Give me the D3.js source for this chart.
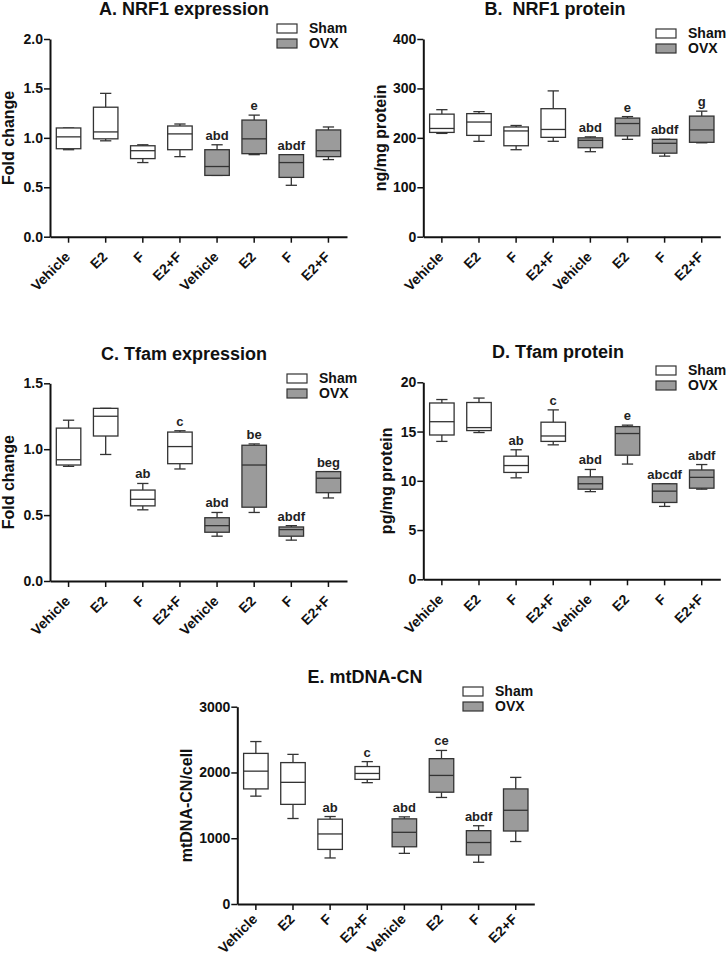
<!DOCTYPE html>
<html>
<head>
<meta charset="utf-8">
<script src="https://cdn.jsdelivr.net/npm/d3@7"></script>
<style>
  html, body { margin: 0; padding: 0; background: #fff; }
  svg { display: block; font-family: "Liberation Sans", Arial, sans-serif; }
</style>
</head>
<body>
<svg id="chart" width="727" height="960"></svg>
<script>
// ---------- DATA ----------
const groups = ["Vehicle", "E2", "F", "E2+F", "Vehicle", "E2", "F", "E2+F"];
const treatment = ["Sham", "Sham", "Sham", "Sham", "OVX", "OVX", "OVX", "OVX"];
const legendLabels = ["Sham", "OVX"];

// each row: [min, q1, median, q3, max]
const nrf1Expression = [
  [0.88, 0.89, 1.01, 1.10, 1.10],
  [0.97, 0.99, 1.06, 1.31, 1.45],
  [0.75, 0.79, 0.87, 0.92, 0.93],
  [0.81, 0.88, 1.04, 1.12, 1.14],
  [0.62, 0.62, 0.71, 0.88, 0.93],
  [0.83, 0.84, 0.99, 1.18, 1.23],
  [0.52, 0.60, 0.75, 0.83, 0.83],
  [0.78, 0.81, 0.87, 1.08, 1.11]
];
const nrf1ExpressionSig = ["", "", "", "", "abd", "e", "abdf", ""];
const nrf1ExpressionTicks = [0, 0.5, 1.0, 1.5, 2.0];

const nrf1Protein = [
  [209, 211, 219, 248, 257],
  [193, 205, 232, 249, 253],
  [176, 184, 214, 222, 225],
  [193, 201, 217, 259, 295],
  [172, 180, 195, 200, 202],
  [197, 204, 229, 240, 243],
  [163, 169, 189, 197, 197],
  [190, 191, 216, 244, 254]
];
const nrf1ProteinSig = ["", "", "", "", "abd", "e", "abdf", "g"];
const nrf1ProteinTicks = [0, 100, 200, 300, 400];

const tfamExpression = [
  [0.87, 0.88, 0.92, 1.16, 1.22],
  [0.96, 1.10, 1.25, 1.31, 1.31],
  [0.54, 0.57, 0.62, 0.69, 0.74],
  [0.85, 0.89, 1.02, 1.13, 1.14],
  [0.34, 0.37, 0.42, 0.48, 0.52],
  [0.52, 0.56, 0.88, 1.03, 1.04],
  [0.31, 0.34, 0.39, 0.41, 0.42],
  [0.63, 0.67, 0.78, 0.83, 0.83]
];
const tfamExpressionSig = ["", "", "ab", "c", "abd", "be", "abdf", "beg"];
const tfamExpressionTicks = [0, 0.5, 1.0, 1.5];

const tfamProtein = [
  [14.0, 14.65, 16.0, 17.9, 18.25],
  [14.9, 15.1, 15.4, 17.95, 18.4],
  [10.3, 10.85, 11.55, 12.5, 13.15],
  [13.65, 14.0, 14.55, 15.95, 17.2],
  [8.9, 9.15, 9.7, 10.4, 11.15],
  [11.7, 12.6, 14.8, 15.5, 15.65],
  [7.4, 7.8, 8.95, 9.7, 9.7],
  [9.15, 9.25, 10.35, 11.1, 11.65]
];
const tfamProteinSig = ["", "", "ab", "c", "abd", "e", "abcdf", "abdf"];
const tfamProteinTicks = [0, 5, 10, 15, 20];

const mtdnaCN = [
  [1640, 1750, 2020, 2290, 2470],
  [1300, 1515, 1850, 2150, 2275],
  [700, 830, 1065, 1290, 1330],
  [1845, 1895, 1985, 2090, 2165],
  [770, 870, 1090, 1295, 1325],
  [1620, 1700, 1955, 2210, 2335],
  [635, 745, 935, 1115, 1190],
  [950, 1110, 1425, 1750, 1925]
];
const mtdnaCNSig = ["", "", "ab", "c", "abd", "ce", "abdf", ""];
const mtdnaCNTicks = [0, 1000, 2000, 3000];

// ---------- LAYOUT ----------
const fillColor = { Sham: "#ffffff", OVX: "#9b9b9b" };
const strokeColor = "#333333";

const panels = [
  { title: "A. NRF1 expression", ylabel: "Fold change", data: nrf1Expression, sig: nrf1ExpressionSig,
    ticks: nrf1ExpressionTicks, fmt: d3.format(".1f"), labDy: 21,
    x0: 50, yTop: 39, yBot: 236.7, titleX: 184, titleY: 15, ylabX: 13.5, legX: 277, legY: 24 },
  { title: "B.  NRF1 protein", ylabel: "ng/mg protein", data: nrf1Protein, sig: nrf1ProteinSig,
    ticks: nrf1ProteinTicks, fmt: d3.format("d"), labDy: 21,
    x0: 423.3, yTop: 39, yBot: 236.7, titleX: 555, titleY: 15, ylabX: 386, legX: 656, legY: 29 },
  { title: "C. Tfam expression", ylabel: "Fold change", data: tfamExpression, sig: tfamExpressionSig,
    ticks: tfamExpressionTicks, fmt: d3.format(".1f"), labDy: 21,
    x0: 50, yTop: 383.3, yBot: 581, titleX: 184, titleY: 360, ylabX: 13.5, legX: 287, legY: 374 },
  { title: "D. Tfam protein", ylabel: "pg/mg protein", data: tfamProtein, sig: tfamProteinSig,
    ticks: tfamProteinTicks, fmt: d3.format("d"), labDy: 21,
    x0: 423.3, yTop: 382.3, yBot: 579.3, titleX: 558, titleY: 358, ylabX: 392, legX: 656, legY: 366 },
  { title: "E. mtDNA-CN", ylabel: "mtDNA-CN/cell", data: mtdnaCN, sig: mtdnaCNSig,
    ticks: mtdnaCNTicks, fmt: d3.format("d"), labDy: 16,
    x0: 237.3, yTop: 706.7, yBot: 904, titleX: 365, titleY: 683, ylabX: 192, legX: 463, legY: 687 }
];

const svg = d3.select("#chart");
const plotWidth = 297;

panels.forEach(p => {
  const g = svg.append("g");
  const y = d3.scaleLinear()
    .domain([p.ticks[0], p.ticks[p.ticks.length - 1]])
    .range([p.yBot, p.yTop]);
  const x = d3.scaleBand().domain(d3.range(groups.length)).range([p.x0, p.x0 + plotWidth]);
  const bw = x.step() * 0.66;
  const capW = bw * 0.46;

  // title
  g.append("text").attr("x", p.titleX).attr("y", p.titleY)
    .attr("text-anchor", "middle").attr("font-size", 18).attr("font-weight", "bold")
    .style("white-space", "pre")
    .attr("fill", "#111").text(p.title);

  // y label
  g.append("text")
    .attr("transform", `translate(${p.ylabX},${(p.yTop + p.yBot) / 2}) rotate(-90)`)
    .attr("text-anchor", "middle").attr("font-size", 16).attr("font-weight", "bold")
    .attr("fill", "#111").text(p.ylabel);

  // y axis
  const ya = g.append("g").attr("transform", `translate(${p.x0},0)`)
    .call(d3.axisLeft(y).tickValues(p.ticks).tickFormat(p.fmt).tickSize(6).tickSizeOuter(0));
  ya.select(".domain").attr("stroke", "#111").attr("stroke-width", 2);
  ya.selectAll(".tick line").attr("stroke", "#111").attr("stroke-width", 1.5);
  ya.selectAll(".tick text").attr("font-size", 14).attr("font-weight", "bold")
    .attr("fill", "#111").attr("x", -7).attr("font-family", "Liberation Sans, Arial, sans-serif");

  // x axis
  const xa = g.append("g").attr("transform", `translate(0,${p.yBot})`)
    .call(d3.axisBottom(x).tickFormat(i => groups[i]).tickSize(6).tickSizeOuter(0));
  xa.select(".domain").attr("stroke", "#111").attr("stroke-width", 2);
  xa.selectAll(".tick line").attr("stroke", "#111").attr("stroke-width", 1.5);
  xa.selectAll(".tick text").attr("font-size", 14).attr("font-weight", "bold")
    .attr("fill", "#111").attr("font-family", "Liberation Sans, Arial, sans-serif")
    .attr("text-anchor", "end").attr("dy", null).attr("y", null)
    .attr("transform", `translate(2.5,${p.labDy}) rotate(-45)`);

  // boxes
  const boxes = g.append("g").selectAll("g").data(p.data).join("g");
  boxes.each(function (d, i) {
    const bx = x(i) + x.bandwidth() / 2;
    const s = d3.select(this);
    const [mn, q1, md, q3, mx] = d;
    s.append("line").attr("x1", bx).attr("x2", bx).attr("y1", y(q3)).attr("y2", y(mx))
      .attr("stroke", strokeColor).attr("stroke-width", 1.3);
    s.append("line").attr("x1", bx).attr("x2", bx).attr("y1", y(q1)).attr("y2", y(mn))
      .attr("stroke", strokeColor).attr("stroke-width", 1.3);
    s.append("line").attr("x1", bx - capW / 2).attr("x2", bx + capW / 2).attr("y1", y(mx)).attr("y2", y(mx))
      .attr("stroke", strokeColor).attr("stroke-width", 1.3);
    s.append("line").attr("x1", bx - capW / 2).attr("x2", bx + capW / 2).attr("y1", y(mn)).attr("y2", y(mn))
      .attr("stroke", strokeColor).attr("stroke-width", 1.3);
    s.append("rect").attr("x", bx - bw / 2).attr("width", bw)
      .attr("y", y(q3)).attr("height", y(q1) - y(q3))
      .attr("fill", fillColor[treatment[i]]).attr("stroke", strokeColor).attr("stroke-width", 1.3);
    s.append("line").attr("x1", bx - bw / 2).attr("x2", bx + bw / 2).attr("y1", y(md)).attr("y2", y(md))
      .attr("stroke", strokeColor).attr("stroke-width", 1.3);
    if (p.sig[i]) {
      s.append("text").attr("x", bx).attr("y", y(mx) - 5)
        .attr("text-anchor", "middle").attr("font-size", 13).attr("font-weight", "bold")
        .attr("fill", "#222").text(p.sig[i]);
    }
  });

  // legend
  legendLabels.forEach((lab, k) => {
    const ly = p.legY + k * 15;
    g.append("rect").attr("x", p.legX).attr("y", ly).attr("width", 20).attr("height", 9)
      .attr("fill", fillColor[lab]).attr("stroke", strokeColor).attr("stroke-width", 1.2);
    g.append("text").attr("x", p.legX + 32).attr("y", ly + 9)
      .attr("font-size", 14).attr("font-weight", "bold").attr("fill", "#111").text(lab);
  });
});
</script>
</body>
</html>
